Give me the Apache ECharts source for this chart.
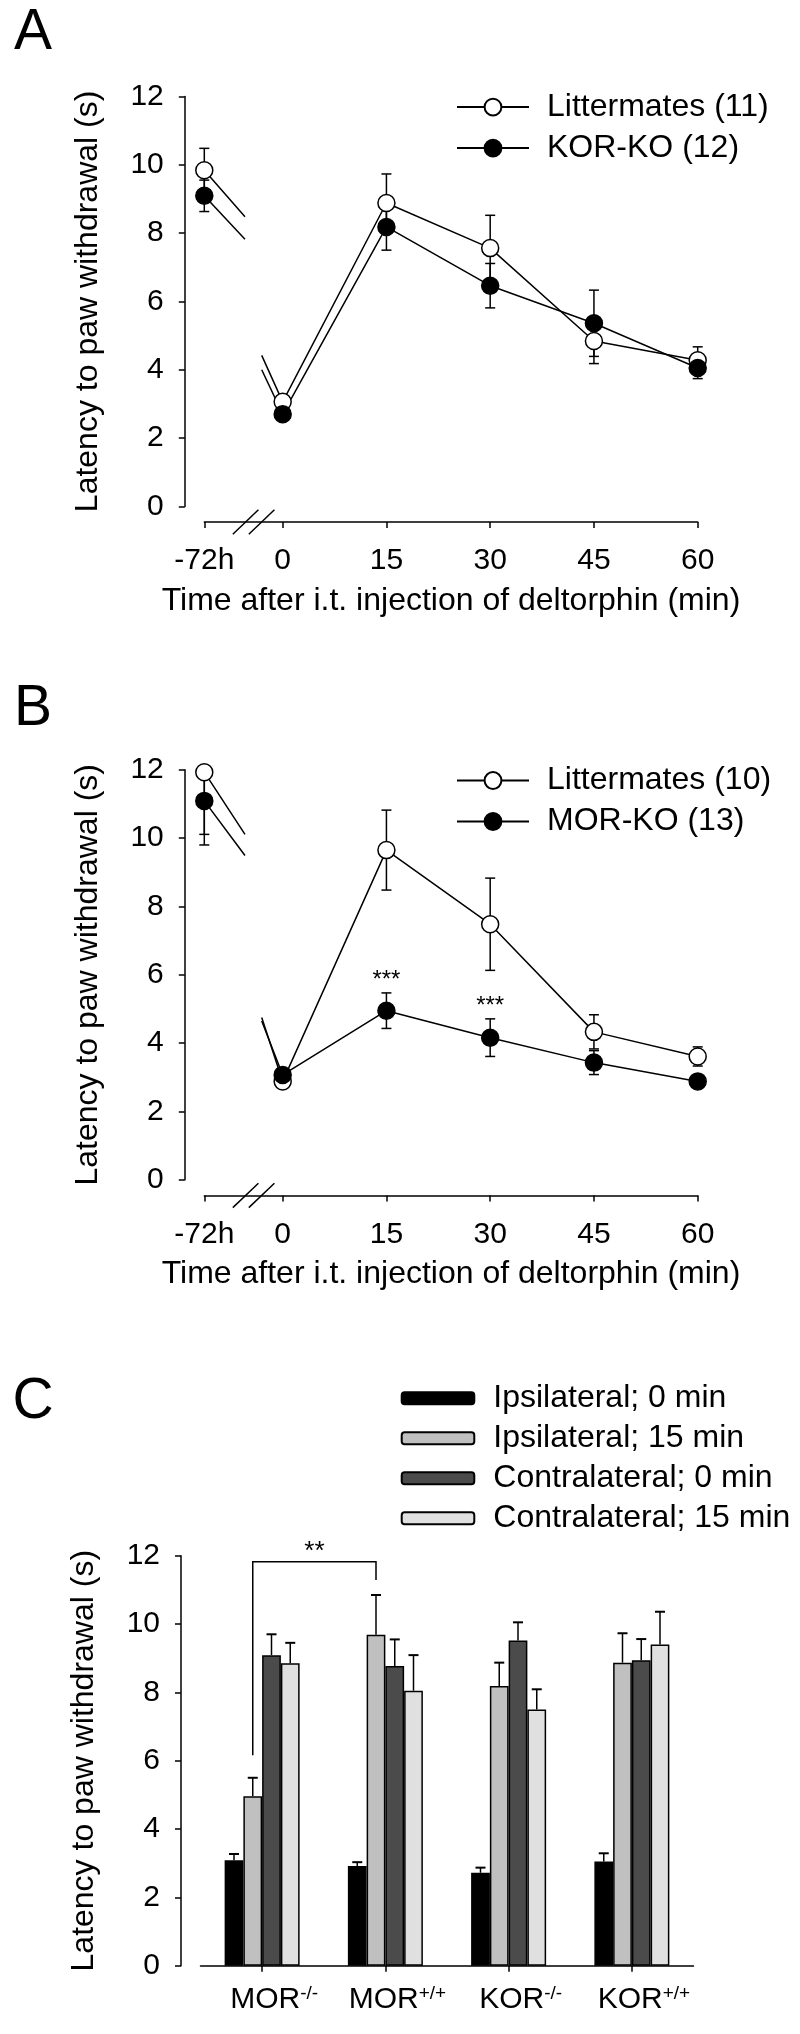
<!DOCTYPE html>
<html><head><meta charset="utf-8">
<script src="https://cdn.jsdelivr.net/npm/echarts@6/dist/echarts.min.js"></script>
<style>html,body{margin:0;padding:0;background:#fff}#c{width:800px;height:2034px}</style>
</head><body><div id="c"></div>
<script>
// ---------- Panel A / B shared x axis ----------
const timeLabels = ['-72h', '0', '15', '30', '45', '60'];
const timePos = [-11.33, 0, 15, 30, 45, 60];
const breakPos = [-4.2];

// ---------- Panel A ----------
const aLitterName = 'Littermates (11)';
const aKoName = 'KOR-KO (12)';
const aLitterMean = [9.84, 3.06, 8.88, 7.56, 4.84, 4.28];
const aLitterSem = [0.64, 0.15, 0.85, 0.96, 0.66, 0.39];
const aKoMean = [9.09, 2.70, 8.18, 6.46, 5.36, 4.05];
const aKoSem = [0.46, 0.15, 0.68, 0.65, 0.97, 0.31];
const aLitterStubs = [[-5.45, 8.48], [-3.03, 4.42]];
const aKoStubs = [[-5.45, 7.82], [-3.03, 4.00]];

// ---------- Panel B ----------
const bLitterName = 'Littermates (10)';
const bKoName = 'MOR-KO (13)';
const bLitterMean = [11.93, 2.88, 9.65, 7.48, 4.33, 3.61];
const bLitterSem = [2.13, 0.12, 1.17, 1.35, 0.50, 0.28];
const bKoMean = [11.09, 3.07, 4.95, 4.16, 3.43, 2.88];
const bKoSem = [0.98, 0.15, 0.52, 0.55, 0.35, 0.12];
const bLitterStubs = [[-5.45, 10.11], [-3.03, 4.75]];
const bKoStubs = [[-5.45, 9.49], [-3.03, 4.65]];
const bStarX = [15, 30];
const bStarY = [5.99, 5.21];
const bStarText = ['***', '***'];

// ---------- Panel C ----------
const groupBase = ['MOR', 'MOR', 'KOR', 'KOR'];
const groupSup = ['-/-', '+/+', '-/-', '+/+'];
const barNames = ['Ipsilateral; 0 min', 'Ipsilateral; 15 min', 'Contralateral; 0 min', 'Contralateral; 15 min'];
const ipsi0 = [3.09, 2.92, 2.72, 3.05];
const ipsi0Sem = [0.18, 0.11, 0.15, 0.24];
const ipsi15 = [4.96, 9.69, 8.19, 8.87];
const ipsi15Sem = [0.54, 1.16, 0.68, 0.86];
const contra0 = [9.09, 8.77, 9.52, 8.94];
const contra0Sem = [0.61, 0.78, 0.53, 0.62];
const contra15 = [8.85, 8.05, 7.50, 9.40];
const contra15Sem = [0.60, 1.04, 0.59, 0.96];
const barColors = ['#000000', '#c0c0c0', '#4b4b4b', '#e0e0e0'];
// bracket: [groupL, barL, groupR, barR, top, bottomL, bottomR]
const bracket = [0, 1, 1, 1, 11.82, 6.16, 11.29];
const bracketText = '**';

// ---------- styling ----------
const FONT = 'Liberation Sans, Arial, Helvetica, sans-serif';
const NAME_FS = 32;
const BAR_W = 18.75;
const YMAX = 12;
const X_OFFSET = 15.6;
const categories = groupBase.map((b, i) => b + groupSup[i]);

const chart = echarts.init(document.getElementById('c'), null, {renderer: 'canvas'});

const axisLineStyle = {color: '#000', width: 1.5};
function yAxisCfg(grid) {
  return {
    type: 'value', gridIndex: grid, min: 0, max: 12, interval: 2, offset: 19.5,
    axisLine: {show: true, onZero: false, lineStyle: axisLineStyle},
    axisTick: {show: true, inside: false, length: 6, lineStyle: axisLineStyle},
    axisLabel: {fontSize: 30, color: '#000', fontFamily: FONT, margin: 21},
    splitLine: {show: false},
    name: 'Latency to paw withdrawal (s)', nameLocation: 'middle', nameRotate: 90, nameGap: 81,
    nameTextStyle: {fontSize: NAME_FS, color: '#000', fontFamily: FONT}
  };
}
function xTimeAxis(grid) {
  return {
    type: 'value', gridIndex: grid, min: timePos[0], max: timePos[timePos.length - 1],
    offset: X_OFFSET,
    axisLine: {show: true, onZero: false, lineStyle: axisLineStyle},
    axisTick: {show: true, length: 6, lineStyle: axisLineStyle, customValues: timePos},
    axisLabel: {
      fontSize: 30, color: '#000', fontFamily: FONT, margin: 24, customValues: timePos,
      formatter: v => {
        let best = 0;
        timePos.forEach((p, i) => { if (Math.abs(p - v) < Math.abs(timePos[best] - v)) best = i; });
        return timeLabels[best];
      }
    },
    splitLine: {show: false},
    name: 'Time after i.t. injection of deltorphin (min)', nameLocation: 'middle', nameGap: 63,
    nameTextStyle: {fontSize: NAME_FS, color: '#000', fontFamily: FONT}
  };
}

function lineData(mean, stubs) {
  const d = [];
  d.push([timePos[0], mean[0]]);
  d.push({value: stubs[0], symbol: 'none'});
  d.push([breakPos[0], '-']);
  d.push({value: stubs[1], symbol: 'none'});
  for (let i = 1; i < timePos.length; i++) d.push([timePos[i], mean[i]]);
  return d;
}
function lineSeries(name, grid, mean, stubs, filled) {
  return {
    type: 'line', name: name, xAxisIndex: grid, yAxisIndex: grid,
    data: lineData(mean, stubs), connectNulls: false, clip: false,
    symbol: 'circle', symbolSize: 17, showSymbol: true, z: 3,
    lineStyle: {color: '#000', width: 1.5},
    itemStyle: {color: filled ? '#000' : '#fff', borderColor: '#000', borderWidth: 1.5}
  };
}
function errRender(params, api) {
  const x = api.value(0), lo = api.value(1);
  let hi = api.value(2);
  const clipped = hi > YMAX;
  if (clipped) hi = YMAX;
  const p1 = api.coord([x, lo]), p2 = api.coord([x, hi]);
  const st = {stroke: '#000', lineWidth: 1.5};
  const cap = 5;
  const ch = [
    {type: 'line', shape: {x1: p1[0], y1: p1[1], x2: p2[0], y2: p2[1]}, style: st},
    {type: 'line', shape: {x1: p1[0] - cap, y1: p1[1], x2: p1[0] + cap, y2: p1[1]}, style: st}
  ];
  if (!clipped) ch.push({type: 'line', shape: {x1: p2[0] - cap, y1: p2[1], x2: p2[0] + cap, y2: p2[1]}, style: st});
  return {type: 'group', children: ch};
}
function errSeries(grid, mean, sem) {
  return {
    type: 'custom', xAxisIndex: grid, yAxisIndex: grid, clip: false, z: 2, silent: true,
    data: timePos.map((x, i) => [x, mean[i] - sem[i], mean[i] + sem[i]]),
    encode: {x: 0, y: [1, 2]},
    renderItem: errRender
  };
}
function breakSeries(grid) {
  return {
    type: 'custom', xAxisIndex: grid, yAxisIndex: grid, clip: false, z: 4, silent: true,
    data: breakPos.map(x => [x, 0]),
    renderItem: (params, api) => {
      const c = api.coord([api.value(0), 0]);
      const y = c[1] + X_OFFSET;
      const st = {stroke: '#000', lineWidth: 1.5};
      const mk = dx => ({type: 'line', shape: {x1: c[0] + dx - 12.8, y1: y + 12.2, x2: c[0] + dx + 12.8, y2: y - 12.2}, style: st});
      return {type: 'group', children: [mk(-8), mk(8)]};
    }
  };
}

// Panel C series
const cMeans = [ipsi0, ipsi15, contra0, contra15];
const cSems = [ipsi0Sem, ipsi15Sem, contra0Sem, contra15Sem];
const barSeries = barNames.map((n, s) => ({
  type: 'bar', name: n, xAxisIndex: 2, yAxisIndex: 2, data: cMeans[s],
  barWidth: BAR_W, barGap: '0%', z: 2,
  itemStyle: {color: barColors[s], borderColor: '#000', borderWidth: 1.5}
}));
const cErrData = [];
cMeans.forEach((m, s) => m.forEach((v, g) => cErrData.push([g, s, v, v + cSems[s][g]])));
const cErrSeries = {
  type: 'custom', xAxisIndex: 2, yAxisIndex: 2, clip: false, z: 3, silent: true,
  data: cErrData, encode: {x: 0, y: 3},
  renderItem: (params, api) => {
    const g = api.value(0), s = api.value(1), top = api.value(2), hi = api.value(3);
    const pt = api.coord([g, top]), ph = api.coord([g, hi]);
    const x = pt[0] + (s - 1.5) * BAR_W;
    const st = {stroke: '#000', lineWidth: 1.5};
    return {type: 'group', children: [
      {type: 'line', shape: {x1: x, y1: pt[1], x2: x, y2: ph[1]}, style: st},
      {type: 'line', shape: {x1: x - 5, y1: ph[1], x2: x + 5, y2: ph[1]}, style: {stroke: '#000', lineWidth: 2}}
    ]};
  }
};
const bracketSeries = {
  type: 'custom', xAxisIndex: 2, yAxisIndex: 2, clip: false, z: 4, silent: true,
  data: [bracket], encode: {x: 0, y: 4},
  renderItem: (params, api) => {
    const gL = api.value(0), sL = api.value(1), gR = api.value(2), sR = api.value(3);
    const top = api.value(4), bL = api.value(5), bR = api.value(6);
    const xL = api.coord([gL, top])[0] + (sL - 1.5) * BAR_W;
    const xR = api.coord([gR, top])[0] + (sR - 1.5) * BAR_W;
    const yT = api.coord([gL, top])[1];
    const yL = api.coord([gL, bL])[1];
    const yR = api.coord([gR, bR])[1];
    const st = {stroke: '#000', lineWidth: 1.5, fill: null};
    return {type: 'group', children: [
      {type: 'polyline', shape: {points: [[xL, yL], [xL, yT], [xR, yT], [xR, yR]]}, style: st},
      {type: 'text', x: (xL + xR) / 2, y: yT - 10, style: {text: bracketText, fontSize: 26, fontFamily: FONT, fill: '#000', align: 'center', verticalAlign: 'middle'}}
    ]};
  }
};
const starSeries = {
  type: 'custom', xAxisIndex: 1, yAxisIndex: 1, clip: false, z: 5, silent: true,
  data: bStarX.map((x, i) => [x, bStarY[i], i]),
  renderItem: (params, api) => {
    const p = api.coord([api.value(0), api.value(1)]);
    return {type: 'text', x: p[0], y: p[1] + 5, style: {text: bStarText[api.value(2)], fontSize: 24, fontFamily: FONT, fill: '#000', align: 'center', verticalAlign: 'middle'}};
  }
};

const legendText = {fontSize: NAME_FS, color: '#000', fontFamily: FONT, padding: [0, 0, 0, 13]};
const option = {
  animation: false,
  backgroundColor: '#fff',
  textStyle: {fontFamily: FONT},
  grid: [
    {left: 204.3, top: 96.4, width: 493.4, height: 410},
    {left: 204.3, top: 769.8, width: 493.4, height: 410},
    {left: 200.5, top: 1555.7, width: 493, height: 410}
  ],
  xAxis: [
    xTimeAxis(0), xTimeAxis(1),
    {
      type: 'category', gridIndex: 2, data: categories,
      axisLine: {show: true, onZero: false, lineStyle: axisLineStyle},
      axisTick: {show: true, alignWithLabel: true, length: 6, lineStyle: axisLineStyle},
      axisLabel: {
        interval: 0, margin: 19, color: '#000', fontFamily: FONT, fontSize: 30,
        formatter: (v, i) => '{b|' + groupBase[i] + '}{s|' + groupSup[i] + '}',
        rich: {
          b: {fontSize: 30, fontFamily: FONT, color: '#000', padding: [0, 0, 0, 24]},
          s: {fontSize: 19, fontFamily: FONT, color: '#000', verticalAlign: 'top'}
        }
      },
      splitLine: {show: false}
    }
  ],
  yAxis: [yAxisCfg(0), yAxisCfg(1), yAxisCfg(2)],
  legend: [
    {orient: 'vertical', left: 456, top: 91.1, padding: 0, itemWidth: 72, itemHeight: 21, itemGap: 9,
     data: [aLitterName, aKoName], textStyle: legendText, selectedMode: false},
    {orient: 'vertical', left: 456, top: 764.5, padding: 0, itemWidth: 72, itemHeight: 21, itemGap: 9,
     data: [bLitterName, bKoName], textStyle: legendText, selectedMode: false},
    {orient: 'vertical', left: 400.7, top: 1382.3, padding: 0, itemWidth: 72.6, itemHeight: 12, itemGap: 8,
     data: barNames, textStyle: Object.assign({}, legendText, {padding: [0, 0, 0, 14]}), selectedMode: false}
  ],
  graphic: [
    {type: 'text', x: 33, y: 33, style: {text: 'A', fontSize: 57, fontFamily: FONT, fill: '#000', align: 'center', verticalAlign: 'middle'}},
    {type: 'text', x: 33, y: 709, style: {text: 'B', fontSize: 57, fontFamily: FONT, fill: '#000', align: 'center', verticalAlign: 'middle'}},
    {type: 'text', x: 33, y: 1402, style: {text: 'C', fontSize: 57, fontFamily: FONT, fill: '#000', align: 'center', verticalAlign: 'middle'}}
  ],
  series: [
    errSeries(0, aLitterMean, aLitterSem), errSeries(0, aKoMean, aKoSem),
    lineSeries(aLitterName, 0, aLitterMean, aLitterStubs, false),
    lineSeries(aKoName, 0, aKoMean, aKoStubs, true),
    breakSeries(0),
    errSeries(1, bLitterMean, bLitterSem), errSeries(1, bKoMean, bKoSem),
    lineSeries(bLitterName, 1, bLitterMean, bLitterStubs, false),
    lineSeries(bKoName, 1, bKoMean, bKoStubs, true),
    breakSeries(1), starSeries
  ].concat(barSeries, [cErrSeries, bracketSeries])
};
chart.setOption(option);
</script>
</body></html>
